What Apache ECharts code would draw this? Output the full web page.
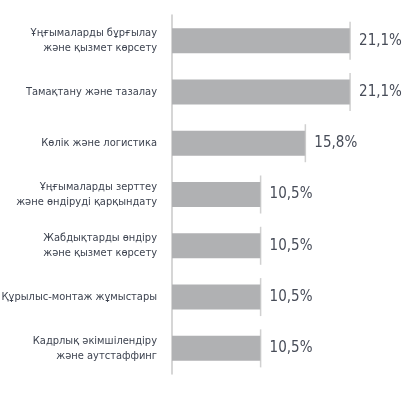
<!DOCTYPE html>
<html>
<head>
<meta charset="utf-8">
<script src="https://cdn.jsdelivr.net/npm/echarts@6/dist/echarts.min.js"></script>
<style>html,body{margin:0;padding:0;background:#fff;}#c{width:402px;height:393px;}</style>
</head>
<body>
<div id="c"></div>
<script>
var categories = [
  'Ұңғымаларды бұрғылау\nжәне қызмет көрсету',
  'Тамақтану және тазалау',
  'Көлік және логистика',
  'Ұңғымаларды зерттеу\nжәне өндіруді қарқындату',
  'Жабдықтарды өндіру\nжәне қызмет көрсету',
  'Құрылыс-монтаж жұмыстары',
  'Кадрлық әкімшілендіру\nжәне аутстаффинг'
];
var values = [21.1, 21.1, 15.8, 10.5, 10.5, 10.5, 10.5];
var valueLabels = ['21,1%', '21,1%', '15,8%', '10,5%', '10,5%', '10,5%', '10,5%'];

var font = '"Liberation Sans Narrow", "DejaVu Sans Condensed", sans-serif';
var chart = echarts.init(document.getElementById('c'));
chart.setOption({
  animation: false,
  grid: { left: 172, top: 15, bottom: 19, width: 211, containLabel: false, outerBoundsMode: 'none' },
  xAxis: { type: 'value', min: 0, max: 25, show: false },
  yAxis: {
    type: 'category', data: categories, inverse: true,
    axisLine: { show: true, lineStyle: { color: '#c8c8c8', width: 1.5 } },
    axisTick: { show: false },
    axisLabel: { margin: 15, color: '#3d4350', fontFamily: font, fontSize: 11, lineHeight: 15, align: 'right' }
  },
  series: [
    {
      type: 'bar', data: values, barWidth: 25,
      itemStyle: { color: '#b0b1b3' },
      label: {
        show: true, position: 'right', distance: 9,
        formatter: function (p) { return valueLabels[p.dataIndex]; },
        color: '#474c58', fontFamily: font, fontSize: 15
      }
    },
    {
      type: 'scatter', data: values, symbol: 'rect', symbolSize: [1.5, 38],
      itemStyle: { color: '#c4c4c4' }, z: 3, silent: true
    }
  ]
});
</script>
</body>
</html>
